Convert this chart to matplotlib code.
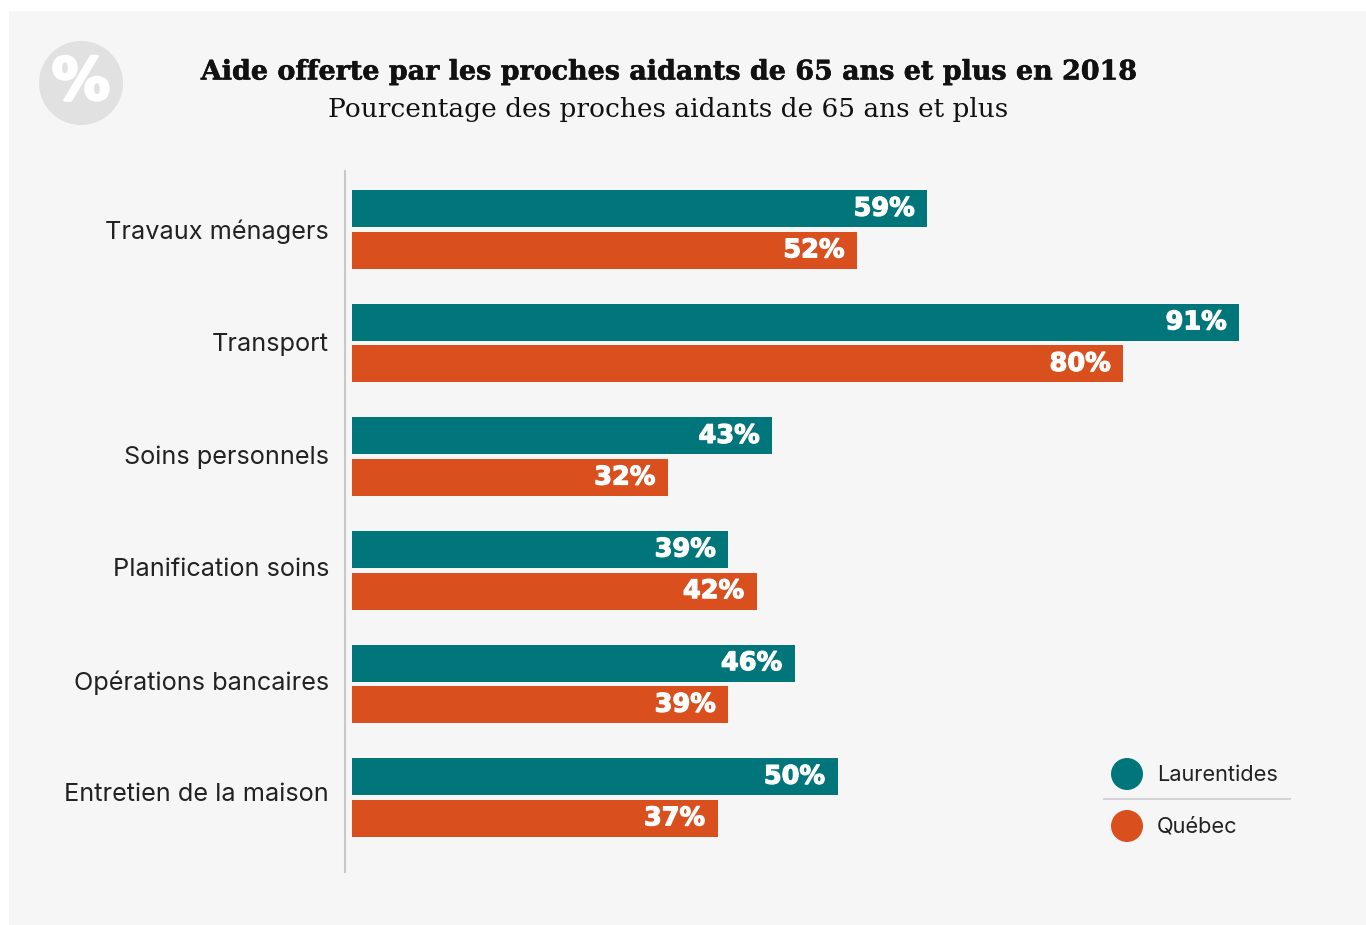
import matplotlib
matplotlib.use("Agg")
import matplotlib.pyplot as plt
import matplotlib.patheffects as pe
from matplotlib.patches import Rectangle, Circle

categories = ["Travaux ménagers", "Transport", "Soins personnels",
              "Planification soins", "Opérations bancaires", "Entretien de la maison"]
# printed percentages
laurentides = [59, 91, 43, 39, 46, 50]
quebec = [52, 80, 32, 42, 39, 37]
# bar lengths as drawn in the picture, they differ a little from the printed numbers
laurentides_bar = [59.0, 91.0, 43.1, 38.6, 45.4, 49.8]
quebec_bar = [51.8, 79.1, 32.4, 41.5, 38.6, 37.5]

TEAL = "#00757a"
ORANGE = "#d94f1e"
W, H = 1366, 925

# the installed bold faces are lighter than the reference, thicken them a bit
heavy = [pe.withStroke(linewidth=0.9, foreground="white")]
heavy_title = [pe.withStroke(linewidth=0.4, foreground="#111111")]

fig = plt.figure(figsize=(W / 100, H / 100), dpi=100, facecolor="white")

# overlay in pixels for panel, icon, titles and legend
bg = fig.add_axes([0, 0, 1, 1])
bg.set_xlim(0, W)
bg.set_ylim(H, 0)
bg.axis("off")
bg.add_patch(Rectangle((9, 11), W - 9, H - 11, color="#f6f6f6", lw=0))
bg.add_patch(Circle((81, 83), 42, color="#e1e1e1", lw=0))
bg.text(81, 83, "%", color="white", fontsize=42, fontweight="bold", family="DejaVu Sans",
        ha="center", va="center", path_effects=[pe.withStroke(linewidth=2, foreground="white")])

bg.text(668, 72, "Aide offerte par les proches aidants de 65 ans et plus en 2018",
        fontsize=19.4, fontweight="bold", family="DejaVu Serif", ha="center", va="center",
        color="#111111", path_effects=heavy_title)
bg.text(668, 109, "Pourcentage des proches aidants de 65 ans et plus",
        fontsize=19, family="DejaVu Serif", ha="center", va="center", color="#111111")

bg.add_patch(Circle((1127, 774), 16, color=TEAL, lw=0))
bg.add_patch(Circle((1127, 826), 16, color=ORANGE, lw=0))
bg.plot([1104, 1290], [799, 799], color="#d0d0d0", lw=1.3)
bg.text(1157, 775, "Laurentides", fontsize=15.7, family="Inter", va="center", color="#222222")
bg.text(1157, 827, "Québec", fontsize=15.7, family="Inter", va="center", color="#222222")

# bar axes, spine at x=345, zero at x=352, 9.75 px per percent
px = 9.75
ax = fig.add_axes([345 / W, 1 - 872 / H, (1300 - 345) / W, (872 - 171) / H])
ax.patch.set_alpha(0)
ax.set_xlim(-7 / px, (1300 - 352) / px)
step = 113.6
ax.set_ylim((872 - 229.5) / step, (171 - 229.5) / step)

for i, cat in enumerate(categories):
    ax.barh(i - 0.183, laurentides_bar[i], height=0.326, color=TEAL)
    ax.barh(i + 0.183, quebec_bar[i], height=0.326, color=ORANGE)
    ax.text(laurentides_bar[i] - 1.3, i - 0.183, f"{laurentides[i]}%", color="white", fontsize=18.4,
            fontweight="bold", family="DejaVu Sans", ha="right", va="center", path_effects=heavy)
    ax.text(quebec_bar[i] - 1.3, i + 0.183, f"{quebec[i]}%", color="white", fontsize=18.4,
            fontweight="bold", family="DejaVu Sans", ha="right", va="center", path_effects=heavy)

# labels sit slightly tighter than the bar groups
ax.set_yticks([i * 0.991 for i in range(len(categories))])
ax.set_yticklabels(categories, fontsize=18.2, family="Inter", color="#222222")
ax.tick_params(axis="y", length=0, pad=11.5)
ax.set_xticks([])
for s in ["top", "right", "bottom"]:
    ax.spines[s].set_visible(False)
ax.spines["left"].set_color("#c8c8c8")
ax.spines["left"].set_linewidth(1.5)

fig.savefig("out.png", dpi=100)
